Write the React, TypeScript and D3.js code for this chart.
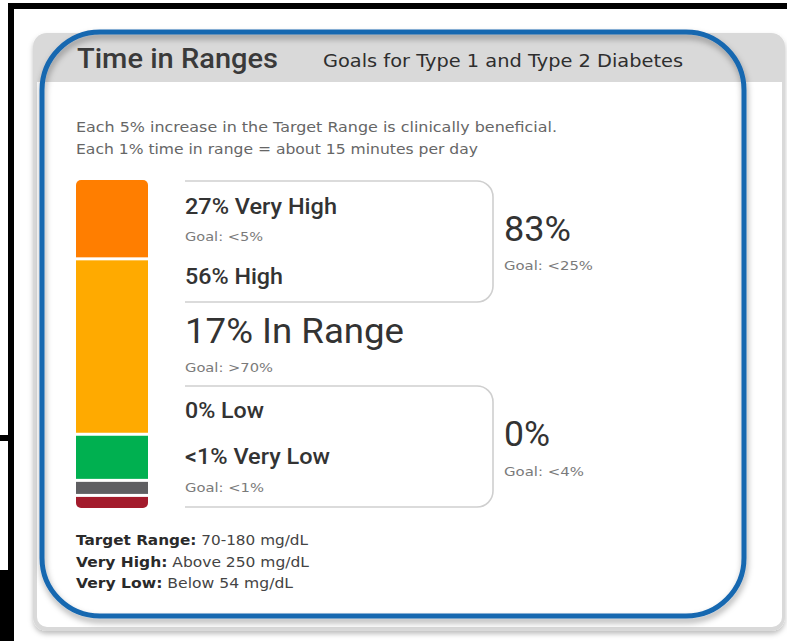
import React from "react";
import * as d3 from "d3";

const title = "Time in Ranges";
const subtitle = "Goals for Type 1 and Type 2 Diabetes";
const noteLines = [
  "Each 5% increase in the Target Range is clinically beneficial.",
  "Each 1% time in range = about 15 minutes per day",
];
const segNames = ["Very High", "High", "In Range", "Low", "Very Low"];
const segLabels = ["27%", "56%", "17%", "0%", "<1%"];
const segGoals = ["<5%", "", ">70%", "", "<1%"];
// visible share of each bar segment (top to bottom)
const segShares = [24.4, 54.4, 13.6, 3.8, 3.5];
const segColors = ["#FF7E00", "#FFAA00", "#00B050", "#5F5F62", "#A31B2C"];
const groupTotals = ["83%", "0%"];
const groupGoals = ["<25%", "<4%"];
const footKeys = ["Target Range:", "Very High:", "Very Low:"];
const footVals = ["70-180 mg/dL", "Above 250 mg/dL", "Below 54 mg/dL"];

const W = 787;
const H = 641;
const smallFont = "'DejaVu Sans', Verdana, sans-serif";
const bigFont = "Roboto, 'Noto Sans', sans-serif";

type TProps = {
  x: number;
  y: number;
  size: number;
  len?: number;
  family?: string;
  weight?: number;
  fill?: string;
  children: React.ReactNode;
};

function T({ x, y, size, len, family = smallFont, weight = 400, fill = "#333", children }: TProps) {
  return (
    <text
      x={x}
      y={y}
      fontFamily={family}
      fontSize={size}
      fontWeight={weight}
      fill={fill}
      textLength={len}
      lengthAdjust={len ? "spacingAndGlyphs" : undefined}
    >
      {children}
    </text>
  );
}

export default function App() {
  const barX = 76;
  const barW = 72;
  const barTop = 180;
  const barBottom = 508;
  const gap = 3;
  const n = segShares.length;
  const total = d3.sum(segShares);
  const y = d3
    .scaleLinear()
    .domain([0, total])
    .range([barTop, barBottom - gap * (n - 1)]);
  const cum = d3.cumsum(segShares);
  const segs = segShares.map((s, i) => {
    const start = i === 0 ? 0 : cum[i - 1];
    const y0 = y(start) + gap * i;
    const y1 = y(start + s) + gap * i;
    return { y0, y1, color: segColors[i] };
  });

  const boxPath = (top: number, bottom: number, left: number, right: number, r: number) => {
    const p = d3.path();
    p.moveTo(left, top);
    p.lineTo(right - r, top);
    p.arcTo(right, top, right, top + r, r);
    p.lineTo(right, bottom - r);
    p.arcTo(right, bottom, right - r, bottom, r);
    p.lineTo(left, bottom);
    return p.toString();
  };

  const labelX = 185;
  const rightX = 504;
  const dark = "#333333";
  const goalColor = "#7a7a7a";

  return (
    <div style={{ position: "absolute", left: 0, top: 0, width: W, height: H, background: "#fff" }}>
      <svg width={W} height={H} style={{ display: "block" }}>
        <defs>
          <filter id="cardShadow" x="-5%" y="-5%" width="110%" height="115%">
            <feDropShadow dx="0" dy="3" stdDeviation="2.5" floodColor="#000" floodOpacity="0.25" />
          </filter>
          <filter id="blueShadow" x="-5%" y="-5%" width="110%" height="115%">
            <feDropShadow dx="1" dy="4" stdDeviation="3" floodColor="#000" floodOpacity="0.35" />
          </filter>
          <clipPath id="barClip">
            <rect x={barX} y={barTop} width={barW} height={barBottom - barTop} rx={5} />
          </clipPath>
        </defs>

        {/* black frame fragments */}
        <rect x={9} y={3} width={W - 9} height={6} fill="#000" />
        <rect x={8} y={3} width={6} height={H - 3} fill="#000" />
        <rect x={0} y={435} width={14} height={6} fill="#000" />
        <rect x={0} y={570} width={14} height={H - 570} fill="#000" />

        {/* card */}
        <rect x={33} y={33} width={752} height={598} rx={14} fill="#d9d9d9" filter="url(#cardShadow)" />
        <rect x={37} y={82} width={745} height={545} rx={10} fill="#ffffff" />
        <rect x={37} y={82} width={745} height={20} fill="#ffffff" />

        {/* blue outline */}
        <rect
          x={42}
          y={32}
          width={702}
          height={584}
          rx={58}
          fill="none"
          stroke="#1767B0"
          strokeWidth={5}
          filter="url(#blueShadow)"
        />

        {/* header */}
        <T x={77} y={68} size={27} len={201} family={bigFont} weight={500} fill="#3a3a3a">
          {title}
        </T>
        <T x={323} y={67} size={18} len={360} fill="#2e2e2e">
          {subtitle}
        </T>

        <T x={76} y={132} size={13.8} len={481} fill="#666">
          {noteLines[0]}
        </T>
        <T x={76} y={154} size={13.8} len={402} fill="#666">
          {noteLines[1]}
        </T>

        {/* stacked bar */}
        <g clipPath="url(#barClip)">
          {segs.map((s, i) => (
            <rect key={i} x={barX} y={s.y0} width={barW} height={s.y1 - s.y0} fill={s.color} />
          ))}
        </g>

        {/* bracket boxes */}
        <path d={boxPath(181, 302, labelX, 493, 16)} fill="none" stroke="#cfcfcf" strokeWidth={1.6} />
        <path d={boxPath(386, 507, labelX, 493, 16)} fill="none" stroke="#cfcfcf" strokeWidth={1.6} />

        {/* upper group */}
        <T x={labelX} y={214} size={21.5} len={152} family={bigFont} weight={500} fill={dark}>
          {segLabels[0]} {segNames[0]}
        </T>
        <T x={labelX} y={241} size={13} len={78} fill={goalColor}>
          Goal: {segGoals[0]}
        </T>
        <T x={labelX} y={284} size={21.5} len={98} family={bigFont} weight={500} fill={dark}>
          {segLabels[1]} {segNames[1]}
        </T>

        {/* in range */}
        <T x={labelX} y={343} size={35} len={219} family={bigFont} fill={dark}>
          {segLabels[2]} {segNames[2]}
        </T>
        <T x={labelX} y={372} size={13} len={88} fill={goalColor}>
          Goal: {segGoals[2]}
        </T>

        {/* lower group */}
        <T x={labelX} y={418} size={21.5} len={79} family={bigFont} weight={500} fill={dark}>
          {segLabels[3]} {segNames[3]}
        </T>
        <T x={labelX} y={464} size={21.5} len={145} family={bigFont} weight={500} fill={dark}>
          {segLabels[4]} {segNames[4]}
        </T>
        <T x={labelX} y={492} size={13} len={79} fill={goalColor}>
          Goal: {segGoals[4]}
        </T>

        {/* group totals */}
        <T x={rightX} y={241} size={35} len={67} family={bigFont} fill={dark}>
          {groupTotals[0]}
        </T>
        <T x={rightX} y={270} size={13} len={89} fill={goalColor}>
          Goal: {groupGoals[0]}
        </T>
        <T x={rightX} y={446} size={35} len={46} family={bigFont} fill={dark}>
          {groupTotals[1]}
        </T>
        <T x={rightX} y={476} size={13} len={80} fill={goalColor}>
          Goal: {groupGoals[1]}
        </T>

        {/* footer */}
        {footKeys.map((k, i) => (
          <text
            key={i}
            x={76}
            y={545 + i * 21.5}
            fontFamily={smallFont}
            fontSize={13.5}
            fill="#2a2a2a"
            textLength={[232, 233, 217][i]}
            lengthAdjust="spacingAndGlyphs"
          >
            <tspan fontWeight={700}>{k}</tspan>
            <tspan fill="#444"> {footVals[i]}</tspan>
          </text>
        ))}
      </svg>
    </div>
  );
}
